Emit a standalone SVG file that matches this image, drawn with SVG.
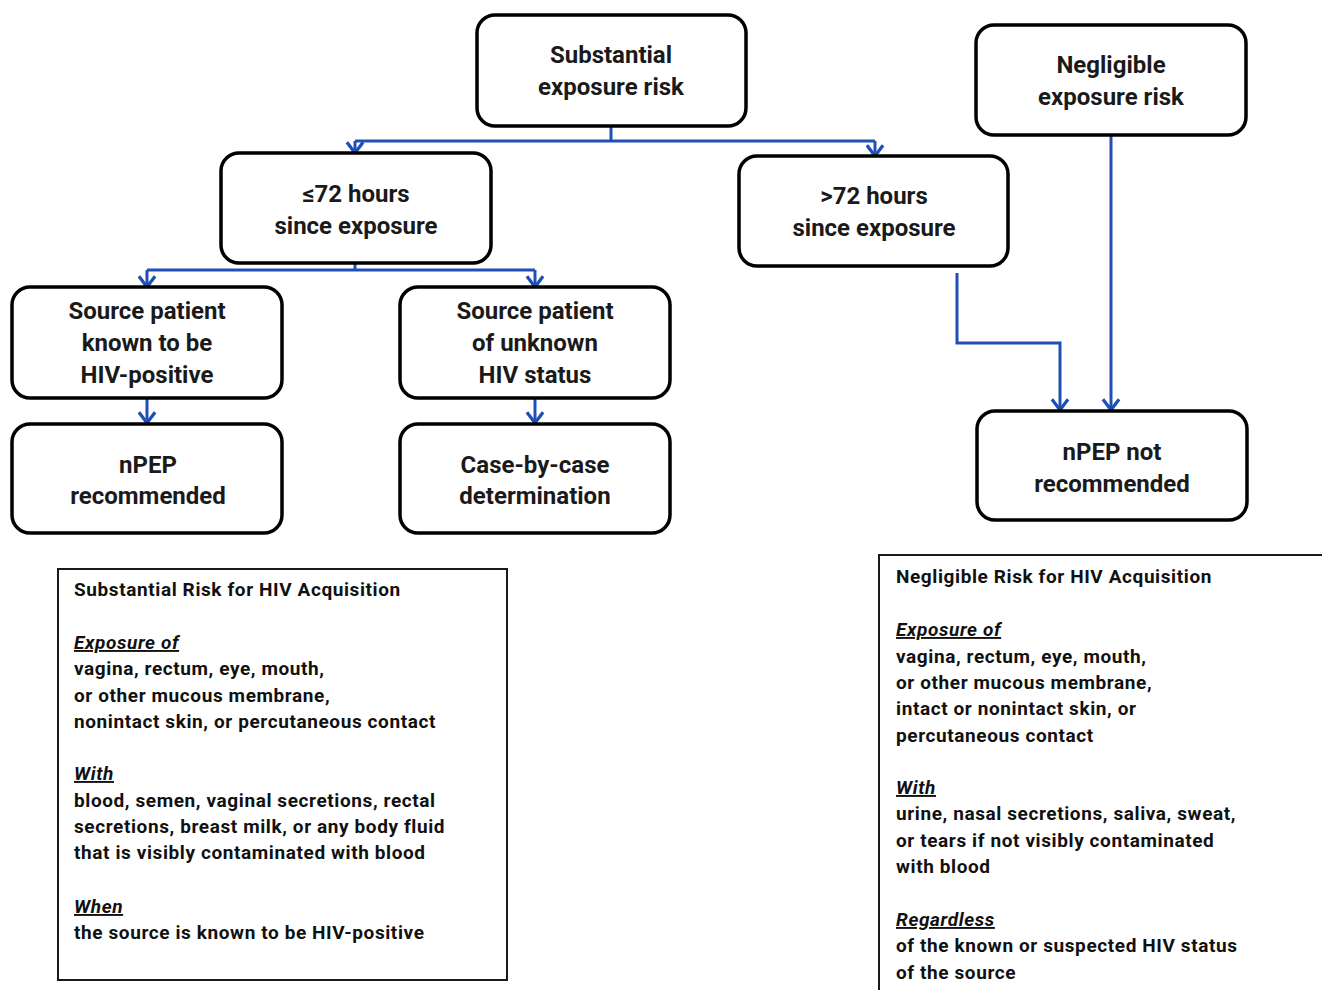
<svg xmlns="http://www.w3.org/2000/svg" width="1322" height="990" viewBox="0 0 1322 990">
<defs>
<style>
.box{fill:#fff;stroke:#000;stroke-width:3.5}
.nt{font-family:Roboto,"Open Sans",sans-serif;font-weight:bold;font-size:24px;fill:#1a1a1a;text-anchor:middle}
.con{fill:none;stroke:#1f4fb4;stroke-width:3}
.panel{fill:#fff;stroke:#1a1a1a;stroke-width:2}
.pt{font-family:Roboto,"Open Sans",sans-serif;font-weight:bold;font-size:19px;letter-spacing:0.6px;fill:#111}
.hd{font-style:italic;text-decoration:underline}
</style>
<marker id="ah" markerUnits="userSpaceOnUse" markerWidth="20" markerHeight="14" refX="9" refY="11.5" orient="0" viewBox="0 0 18 13">
<path d="M1.5,1.5 L9,11.5 L16.5,1.5" fill="none" stroke="#1f4fb4" stroke-width="3"/>
</marker>
</defs>
<rect width="1322" height="990" fill="#fff"/>
<g id="connectors">
<path class="con" d="M611,126 V141"/>
<path class="con" d="M355,141 H875"/>
<path class="con" d="M355,141 V153" marker-end="url(#ah)"/>
<path class="con" d="M875,141 V156" marker-end="url(#ah)"/>
<path class="con" d="M355,263 V270"/>
<path class="con" d="M147,270 H535"/>
<path class="con" d="M147,270 V287" marker-end="url(#ah)"/>
<path class="con" d="M535,270 V287" marker-end="url(#ah)"/>
<path class="con" d="M147,398 V423" marker-end="url(#ah)"/>
<path class="con" d="M535,398 V423" marker-end="url(#ah)"/>
<path class="con" d="M957,273 V343 H1060 V410" marker-end="url(#ah)"/>
<path class="con" d="M1111,135 V410" marker-end="url(#ah)"/>
</g>
<g id="n-substantial">
<rect class="box" x="477" y="15" width="269" height="111" rx="18"/>
<text class="nt" x="611" y="63">Substantial</text>
<text class="nt" x="611" y="95">exposure risk</text>
</g>
<g id="n-negligible">
<rect class="box" x="976" y="25" width="270" height="110" rx="18"/>
<text class="nt" x="1111" y="73">Negligible</text>
<text class="nt" x="1111" y="105">exposure risk</text>
</g>
<g id="n-le72">
<rect class="box" x="221" y="153" width="270" height="110" rx="18"/>
<text class="nt" x="356" y="202">≤72 hours</text>
<text class="nt" x="356" y="234">since exposure</text>
</g>
<g id="n-gt72">
<rect class="box" x="739" y="156" width="269" height="110" rx="18"/>
<text class="nt" x="874" y="204">&gt;72 hours</text>
<text class="nt" x="874" y="236">since exposure</text>
</g>
<g id="n-known">
<rect class="box" x="12" y="287" width="270" height="111" rx="18"/>
<text class="nt" x="147" y="319">Source patient</text>
<text class="nt" x="147" y="351">known to be</text>
<text class="nt" x="147" y="383">HIV-positive</text>
</g>
<g id="n-unknown">
<rect class="box" x="400" y="287" width="270" height="111" rx="18"/>
<text class="nt" x="535" y="319">Source patient</text>
<text class="nt" x="535" y="351">of unknown</text>
<text class="nt" x="535" y="383">HIV status</text>
</g>
<g id="n-npep">
<rect class="box" x="12" y="424" width="270" height="109" rx="18"/>
<text class="nt" x="148" y="473">nPEP</text>
<text class="nt" x="148" y="504">recommended</text>
</g>
<g id="n-case">
<rect class="box" x="400" y="424" width="270" height="109" rx="18"/>
<text class="nt" x="535" y="473">Case-by-case</text>
<text class="nt" x="535" y="504">determination</text>
</g>
<g id="n-npep-not">
<rect class="box" x="977" y="411" width="270" height="109" rx="18"/>
<text class="nt" x="1112" y="460">nPEP not</text>
<text class="nt" x="1112" y="492">recommended</text>
</g>
<g id="panel-substantial">
<rect class="panel" x="58" y="569" width="449" height="411"/>
<text class="pt" x="74" y="596">Substantial Risk for HIV Acquisition</text>
<text class="pt hd" x="74" y="649">Exposure of</text>
<text class="pt" x="74" y="675">vagina, rectum, eye, mouth,</text>
<text class="pt" x="74" y="702">or other mucous membrane,</text>
<text class="pt" x="74" y="728">nonintact skin, or percutaneous contact</text>
<text class="pt hd" x="74" y="780">With</text>
<text class="pt" x="74" y="807">blood, semen, vaginal secretions, rectal</text>
<text class="pt" x="74" y="833">secretions, breast milk, or any body fluid</text>
<text class="pt" x="74" y="859">that is visibly contaminated with blood</text>
<text class="pt hd" x="74" y="913">When</text>
<text class="pt" x="74" y="939">the source is known to be HIV-positive</text>
</g>
<g id="panel-negligible">
<rect class="panel" x="879" y="555" width="460" height="450"/>
<text class="pt" x="896" y="583">Negligible Risk for HIV Acquisition</text>
<text class="pt hd" x="896" y="636">Exposure of</text>
<text class="pt" x="896" y="663">vagina, rectum, eye, mouth,</text>
<text class="pt" x="896" y="689">or other mucous membrane,</text>
<text class="pt" x="896" y="715">intact or nonintact skin, or</text>
<text class="pt" x="896" y="742">percutaneous contact</text>
<text class="pt hd" x="896" y="794">With</text>
<text class="pt" x="896" y="820">urine, nasal secretions, saliva, sweat,</text>
<text class="pt" x="896" y="847">or tears if not visibly contaminated</text>
<text class="pt" x="896" y="873">with blood</text>
<text class="pt hd" x="896" y="926">Regardless</text>
<text class="pt" x="896" y="952">of the known or suspected HIV status</text>
<text class="pt" x="896" y="979">of the source</text>
</g>
</svg>
